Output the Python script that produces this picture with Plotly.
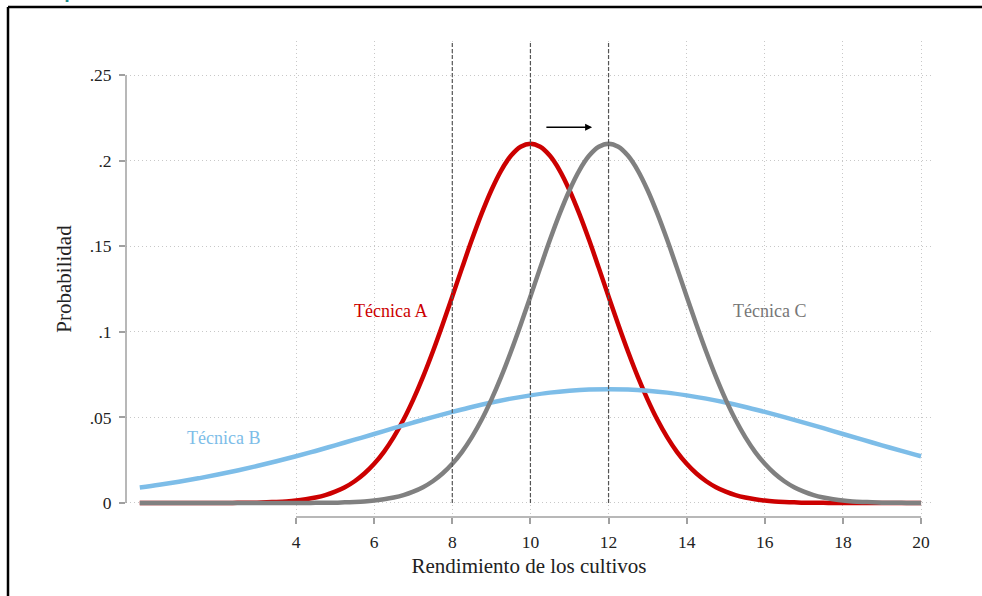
import plotly.graph_objects as go

# ---- data ----
# Técnica A and C read every 0.25 units, Técnica B every 0.5 units
x_ac = [0, 0.25, 0.5, 0.75, 1, 1.25, 1.5, 1.75, 2, 2.25, 2.5, 2.75, 3, 3.25, 3.5, 3.75,
        4, 4.25, 4.5, 4.75, 5, 5.25, 5.5, 5.75, 6, 6.25, 6.5, 6.75, 7, 7.25, 7.5, 7.75,
        8, 8.25, 8.5, 8.75, 9, 9.25, 9.5, 9.75, 10, 10.25, 10.5, 10.75, 11, 11.25, 11.5, 11.75,
        12, 12.25, 12.5, 12.75, 13, 13.25, 13.5, 13.75, 14, 14.25, 14.5, 14.75, 15, 15.25,
        15.5, 15.75, 16, 16.25, 16.5, 16.75, 17, 17.25, 17.5, 17.75, 18, 18.25, 18.5, 18.75,
        19, 19.25, 19.5, 19.75, 20]

tecnica_a = [0, 0, 0, 0, 0, 0, 0, 0, 0, 0,
             0.0001, 0.0001, 0.0002, 0.0004, 0.0006, 0.0009, 0.0014, 0.0022, 0.0032, 0.0046,
             0.0066, 0.0092, 0.0127, 0.0172, 0.0229, 0.0299, 0.0385, 0.0486, 0.0604, 0.0737,
             0.0884, 0.1042, 0.1207, 0.1374, 0.1538, 0.1691, 0.1828, 0.1943, 0.2029, 0.2082,
             0.2100,
             0.2082, 0.2029, 0.1943, 0.1828, 0.1691, 0.1538, 0.1374, 0.1207, 0.1042, 0.0884,
             0.0737, 0.0604, 0.0486, 0.0385, 0.0299, 0.0229, 0.0172, 0.0127, 0.0092, 0.0066,
             0.0046, 0.0032, 0.0022, 0.0014, 0.0009, 0.0006, 0.0004, 0.0002, 0.0001, 0.0001,
             0, 0, 0, 0, 0, 0, 0, 0, 0, 0]

tecnica_c = [0, 0, 0, 0, 0, 0, 0, 0, 0, 0, 0, 0, 0, 0, 0, 0, 0, 0,
             0.0001, 0.0001, 0.0002, 0.0004, 0.0006, 0.0009, 0.0014, 0.0022, 0.0032, 0.0046,
             0.0066, 0.0092, 0.0127, 0.0172, 0.0229, 0.0299, 0.0385, 0.0486, 0.0604, 0.0737,
             0.0884, 0.1042, 0.1207, 0.1374, 0.1538, 0.1691, 0.1828, 0.1943, 0.2029, 0.2082,
             0.2100,
             0.2082, 0.2029, 0.1943, 0.1828, 0.1691, 0.1538, 0.1374, 0.1207, 0.1042, 0.0884,
             0.0737, 0.0604, 0.0486, 0.0385, 0.0299, 0.0229, 0.0172, 0.0127, 0.0092, 0.0066,
             0.0046, 0.0032, 0.0022, 0.0014, 0.0009, 0.0006, 0.0004, 0.0002, 0.0001, 0.0001,
             0, 0]

x_b = [0, 0.5, 1, 1.5, 2, 2.5, 3, 3.5, 4, 4.5, 5, 5.5, 6, 6.5, 7, 7.5, 8, 8.5, 9, 9.5,
       10, 10.5, 11, 11.5, 12, 12.5, 13, 13.5, 14, 14.5, 15, 15.5, 16, 16.5, 17, 17.5,
       18, 18.5, 19, 19.5, 20]

tecnica_b = [0.0090, 0.0106, 0.0124, 0.0144, 0.0166, 0.0190, 0.0216, 0.0244, 0.0273, 0.0304,
             0.0337, 0.0370, 0.0403, 0.0437, 0.0470, 0.0502, 0.0532, 0.0561, 0.0587, 0.0610,
             0.0629, 0.0645, 0.0656, 0.0663, 0.0665, 0.0663, 0.0656, 0.0645, 0.0629, 0.0610,
             0.0587, 0.0561, 0.0532, 0.0502, 0.0470, 0.0437, 0.0403, 0.0370, 0.0337, 0.0304,
             0.0273]

x_ticks = [4, 6, 8, 10, 12, 14, 16, 18, 20]
y_ticks = [0, 0.05, 0.1, 0.15, 0.2, 0.25]
y_tick_labels = ["0", ".05", ".1", ".15", ".2", ".25"]
ref_lines = [8, 10, 12]

series_labels = ["Técnica A", "Técnica B", "Técnica C"]
label_x = [6.41, 2.15, 16.11]
label_y = [0.112, 0.038, 0.112]

arrow_from = (10.37, 0.2196)
arrow_to = (11.58, 0.2196)

# ---- style ----
RED = "#CC0000"
BLUE = "#7DBDE8"
GRAY = "#808080"
SERIF = "Liberation Serif"

fig = go.Figure()
for xs, ys, col in [(x_ac, tecnica_a, RED), (x_b, tecnica_b, BLUE), (x_ac, tecnica_c, GRAY)]:
    fig.add_trace(go.Scatter(x=xs, y=ys, mode="lines",
                             line=dict(color=col, width=4.5, shape="spline", smoothing=1),
                             showlegend=False, hoverinfo="skip"))

shapes = []
for xv in ref_lines:
    shapes.append(dict(type="line", xref="x", yref="y", x0=xv, x1=xv, y0=0, y1=0.27,
                       line=dict(color="#555555", width=1.2, dash="4px,2px"), layer="above"))
# axis lines (partial, as in reference)
shapes.append(dict(type="line", xref="x", yref="paper", x0=min(x_ticks), x1=max(x_ticks),
                   y0=0, y1=0, line=dict(color="#a0a0a0", width=1.5)))
shapes.append(dict(type="line", xref="paper", yref="y", x0=0, x1=0,
                   y0=min(y_ticks), y1=max(y_ticks), line=dict(color="#a0a0a0", width=1.5)))
# outer frame
shapes.append(dict(type="line", xref="paper", yref="paper", x0=-0.1464, x1=-0.1464,
                   y0=1.0714, y1=-0.2, line=dict(color="black", width=2.5)))
shapes.append(dict(type="line", xref="paper", yref="paper", x0=-0.1464, x1=1.1,
                   y0=1.0714, y1=1.0714, line=dict(color="black", width=2.5)))

annotations = []
for txt, lx, ly, col in zip(series_labels, label_x, label_y, [RED, BLUE, "#777777"]):
    annotations.append(dict(x=lx, y=ly, xref="x", yref="y", text=txt, showarrow=False,
                            font=dict(family=SERIF, size=18, color=col)))
annotations.append(dict(x=arrow_to[0], y=arrow_to[1], ax=arrow_from[0], ay=arrow_from[1],
                        xref="x", yref="y", axref="x", ayref="y", text="", showarrow=True,
                        arrowhead=2, arrowsize=1, arrowwidth=1.4, arrowcolor="black"))
annotations.append(dict(x=-0.129, y=1.075, xref="paper", yref="paper", xanchor="left",
                        yanchor="bottom", text="<b>Compuesto co</b>", showarrow=False,
                        font=dict(family="Open Sans", size=18, color="#1a8a8a")))

fig.update_layout(
    width=982, height=596,
    margin=dict(l=126, r=50, t=41, b=79),
    plot_bgcolor="white", paper_bgcolor="white",
    shapes=shapes, annotations=annotations,
    xaxis=dict(range=[-0.353, 20.28], tickvals=x_ticks, ticks="outside", ticklen=6,
               tickcolor="#a0a0a0", tickwidth=1.5, showline=False, zeroline=False,
               showgrid=True, gridcolor="#c8c8c8", griddash="1px,3px", gridwidth=1,
               tickfont=dict(family=SERIF, size=17.5, color="#222222"),
               ticklabelstandoff=3,
               title=dict(text="Rendimiento de los cultivos", standoff=7,
                          font=dict(family=SERIF, size=21, color="#222222"))),
    yaxis=dict(range=[-0.0082, 0.27], tickvals=y_ticks, ticktext=y_tick_labels,
               ticks="outside", ticklen=6, tickcolor="#a0a0a0", tickwidth=1.5,
               showline=False, zeroline=False,
               showgrid=True, gridcolor="#c8c8c8", griddash="1px,3px", gridwidth=1,
               tickfont=dict(family=SERIF, size=17.5, color="#222222"),
               ticklabelstandoff=4,
               title=dict(text="Probabilidad", standoff=12,
                          font=dict(family=SERIF, size=21, color="#222222"))),
)

fig.write_html("out.html", config={"displayModeBar": False},
               post_script="document.body.style.margin='0';document.body.style.overflow='hidden';")
